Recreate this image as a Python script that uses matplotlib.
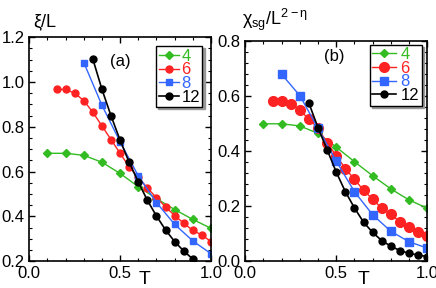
import matplotlib.pyplot as plt
from matplotlib.ticker import MultipleLocator

plt.rcParams['font.family'] = ['Liberation Sans', 'DejaVu Sans']

# panel (a): xi/L
T4 = [0.1, 0.2, 0.3, 0.4, 0.5, 0.6, 0.7, 0.8, 0.9, 1.0]
a4 = [0.682, 0.682, 0.673, 0.642, 0.592, 0.533, 0.480, 0.431, 0.387, 0.347]
T6 = [0.15, 0.2, 0.25, 0.3, 0.35, 0.4, 0.45, 0.5, 0.55, 0.6, 0.65, 0.7, 0.75, 0.8, 0.85, 0.9, 0.95, 1.0]
a6 = [0.967, 0.967, 0.950, 0.917, 0.865, 0.804, 0.743, 0.682, 0.621, 0.575, 0.527, 0.484, 0.443, 0.404, 0.370, 0.338, 0.317, 0.288]
T8a = [0.3, 0.4, 0.5, 0.6, 0.7, 0.8, 0.9, 1.0]
a8 = [1.087, 0.896, 0.733, 0.581, 0.462, 0.365, 0.291, 0.234]
T12a = [0.35, 0.4, 0.45, 0.5, 0.55, 0.6, 0.65, 0.7, 0.75, 0.8, 0.85, 0.9]
a12 = [1.102, 0.967, 0.849, 0.740, 0.641, 0.554, 0.472, 0.402, 0.340, 0.288, 0.246, 0.210]

# panel (b): chi_sg / L^(2-eta)
b4 = [0.500, 0.500, 0.492, 0.465, 0.415, 0.362, 0.311, 0.263, 0.223, 0.193]
b6 = [0.582, 0.582, 0.573, 0.550, 0.516, 0.484, 0.430, 0.384, 0.337, 0.298, 0.258, 0.226, 0.192, 0.171, 0.143, 0.124, 0.106, 0.092]
T8b = [0.2, 0.3, 0.4, 0.5, 0.6, 0.7, 0.8, 0.9, 1.0]
b8 = [0.680, 0.602, 0.483, 0.364, 0.253, 0.169, 0.109, 0.071, 0.048]
T12b = [0.35, 0.4, 0.45, 0.5, 0.55, 0.6, 0.65, 0.7, 0.75, 0.8, 0.85, 0.9, 0.95, 1.0]
b12 = [0.574, 0.485, 0.405, 0.324, 0.253, 0.194, 0.142, 0.105, 0.075, 0.055, 0.039, 0.029, 0.023, 0.017]

labels = ['4', '6', '8', '12']
colors = ['#33bb22', '#ff2222', '#3366ff', 'black']

fig = plt.figure(figsize=(4.36, 2.88), dpi=100)
ax1 = fig.add_axes([0.0672, 0.0927, 0.4167, 0.778])
ax2 = fig.add_axes([0.5626, 0.0927, 0.4174, 0.764])


def style(ax, ylo, yhi, ymaj, ymin):
    ax.set_xlim(0, 1.0)
    ax.set_ylim(ylo, yhi)
    ax.xaxis.set_major_locator(MultipleLocator(0.5))
    ax.xaxis.set_minor_locator(MultipleLocator(0.1))
    ax.yaxis.set_major_locator(MultipleLocator(ymaj))
    ax.yaxis.set_minor_locator(MultipleLocator(ymin))
    ax.xaxis.set_major_formatter('{x:.1f}')
    ax.yaxis.set_major_formatter('{x:.1f}')
    ax.tick_params(which='both', direction='in', top=True, right=True, labelsize=12)
    ax.tick_params(which='major', length=4, width=1)
    ax.tick_params(which='minor', length=2.5, width=0.8)
    for s in ax.spines.values():
        s.set_linewidth(1.2)


style(ax1, 0.2, 1.2, 0.2, 0.05)
style(ax2, 0.0, 0.8, 0.2, 0.04)

ax1.plot(T4, a4, '-D', color=colors[0], ms=4, lw=1, label=labels[0])
ax1.plot(T6, a6, '-o', color=colors[1], ms=5, lw=1, label=labels[1])
ax1.plot(T8a, a8, '-s', color=colors[2], ms=5, lw=1, label=labels[2])
ax1.plot(T12a, a12, '-o', color=colors[3], ms=5, lw=1.2, label=labels[3])

ax2.plot(T4, b4, '-D', color=colors[0], ms=4, lw=1, label=labels[0])
ax2.plot(T6, b6, '-o', color=colors[1], ms=7, lw=1, label=labels[1])
ax2.plot(T8b, b8, '-s', color=colors[2], ms=5.5, lw=1, label=labels[2])
ax2.plot(T12b, b12, '-o', color=colors[3], ms=5, lw=1.2, label=labels[3])

ax1.text(0.5, 1.093, '(a)', fontsize=12, ha='center', va='center')
ax2.text(0.49, 0.743, '(b)', fontsize=12, ha='center', va='center')

fig.text(0.076, 0.925, 'ξ/L', fontsize=13, ha='left', va='center')
fig.text(0.556, 0.93, r'$\mathregular{χ_{sg}/L^{2-η}}$', fontsize=13, ha='left', va='center')
fig.text(145 / 436, 1 - 280 / 288, 'T', fontsize=14, ha='center', va='center')
fig.text(364 / 436, 1 - 280 / 288, 'T', fontsize=14, ha='center', va='center')

for ax, anchor, hl, htp in ((ax1, (0.953, 0.96), 1.2, 0.15),
                            (ax2, (0.969, 0.985), 1.4, 0.3)):
    leg = ax.legend(loc='upper right', bbox_to_anchor=anchor, fontsize=12,
                    handlelength=hl, handletextpad=htp, labelspacing=-0.08,
                    borderpad=0.15, borderaxespad=0.0, fancybox=False,
                    shadow={'ox': 1.5, 'oy': -1.5, 'color': '0.6', 'alpha': 1},
                    framealpha=1)
    leg.get_frame().set_edgecolor('black')
    leg.get_frame().set_linewidth(1)
    for txt, c in zip(leg.get_texts(), colors):
        txt.set_color(c)

fig.savefig('out.png', dpi=100)
